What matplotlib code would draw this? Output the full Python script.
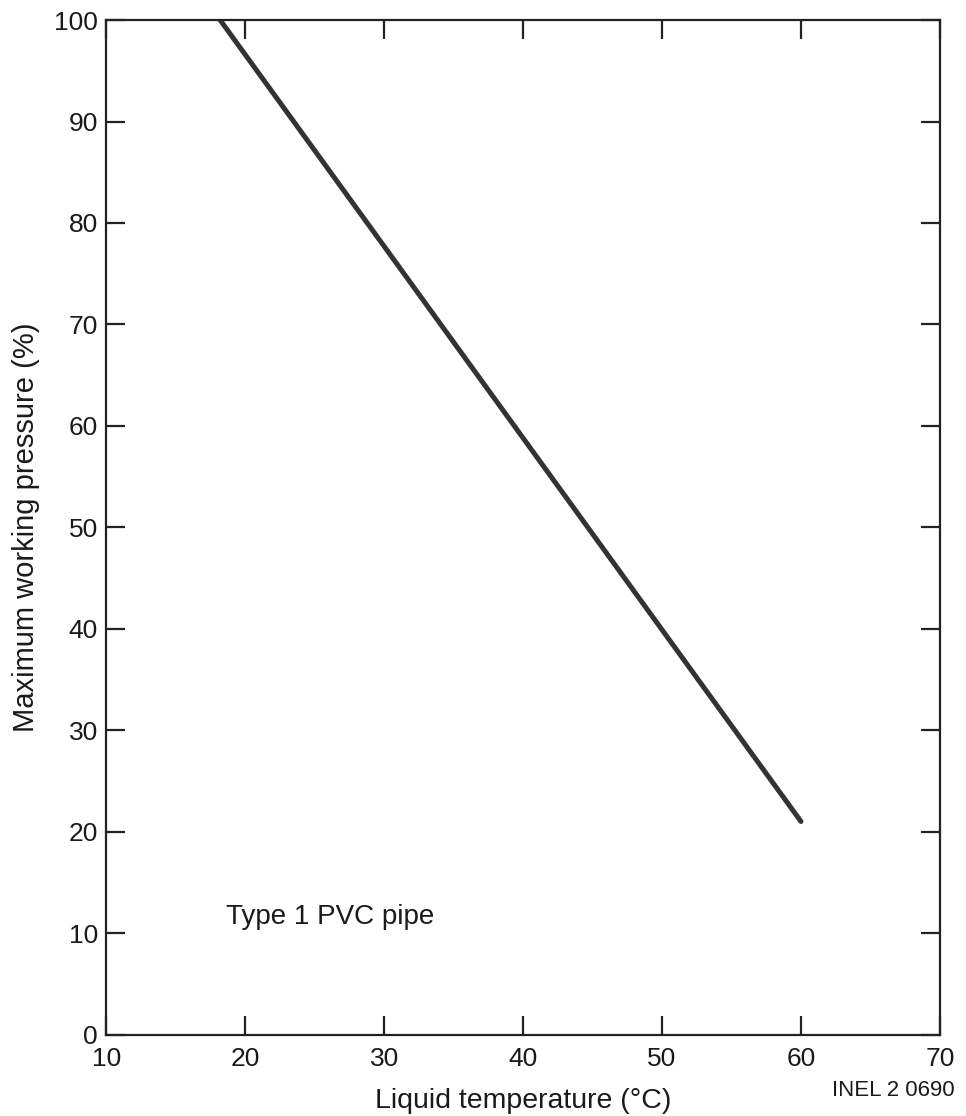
import matplotlib
matplotlib.use("Agg")
import matplotlib.pyplot as plt

plt.rcParams['font.family'] = ['Liberation Sans', 'DejaVu Sans']

# Data
temperature_c = [18.2, 60.0]
max_pressure_pct = [100.0, 21.0]

x_ticks = [10, 20, 30, 40, 50, 60, 70]
y_ticks = [0, 10, 20, 30, 40, 50, 60, 70, 80, 90, 100]

x_label = "Liquid temperature (°C)"
y_label = "Maximum working pressure (%)"
annotation = "Type 1 PVC pipe"
figure_id = "INEL 2 0690"

fig = plt.figure(figsize=(9.66, 11.16), dpi=100)
ax = fig.add_axes([0.110, 0.073, 0.863, 0.909])

ink = "#222222"
ax.plot(temperature_c, max_pressure_pct, color="#333333", linewidth=3.6,
        solid_capstyle="round")

ax.set_xlim(10, 70)
ax.set_ylim(0, 100)
ax.set_xticks(x_ticks)
ax.set_yticks(y_ticks)
ax.set_xticklabels([str(t) for t in x_ticks])
ax.set_yticklabels([str(t) for t in y_ticks])

for s in ax.spines.values():
    s.set_linewidth(1.6)
    s.set_color(ink)

ax.tick_params(axis="both", direction="in", length=14, width=1.6, color=ink,
               labelsize=19, labelcolor="#1a1a1a", pad=6)
ax.tick_params(axis="x", top=True, bottom=True, pad=9)
ax.tick_params(axis="y", left=True, right=True)

ax.set_xlabel(x_label, fontsize=20.5, color="#1a1a1a", labelpad=12)
ax.set_ylabel(y_label, fontsize=21, color="#1a1a1a", labelpad=10)

ax.text(18.6, 11.6, annotation, fontsize=20, color="#1a1a1a",
        ha="left", va="center")

fig.text(0.988, 0.023, figure_id, fontsize=16, color="#1a1a1a",
         ha="right", va="center")

fig.savefig("out.png", dpi=100, facecolor="white")
